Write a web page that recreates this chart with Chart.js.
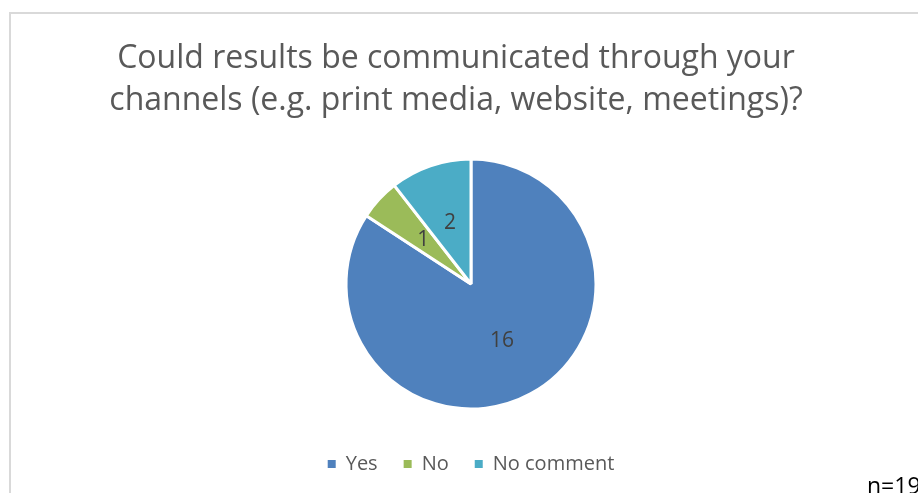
<!DOCTYPE html>
<html>
<head>
<meta charset="utf-8">
<script src="https://cdn.jsdelivr.net/npm/chart.js@4.4.1/dist/chart.umd.min.js"></script>
<style>
  html, body { margin: 0; padding: 0; background: #fff; }
  #wrap { width: 918px; height: 493px; position: relative; }
</style>
</head>
<body>
<div id="wrap"><canvas id="myChart" width="918" height="493"></canvas></div>
<script>
const categories = ['Yes', 'No', 'No comment'];
const answers = [16, 1, 2];
const sliceColors = ['#4f81bd', '#9bbb59', '#4bacc6'];
const titleLines = ['Could results be communicated through your', 'channels (e.g. print media, website, meetings)?'];
const sampleNote = 'n=19';

const FONT = "'Open Sans', 'Liberation Sans', sans-serif";

// frame, title, value labels and sample size are drawn on top of the pie
const decorations = {
  id: 'decorations',
  beforeDraw(chart) {
    const ctx = chart.ctx;
    ctx.save();
    ctx.strokeStyle = '#d9d9d9';
    ctx.lineWidth = 2;
    ctx.strokeRect(10, 13, 940, 520);
    ctx.restore();
  },
  afterDraw(chart) {
    const ctx = chart.ctx;
    ctx.save();
    ctx.fillStyle = '#595959';
    ctx.font = '32px ' + FONT;
    ctx.textAlign = 'center';
    ctx.textBaseline = 'alphabetic';
    titleLines.forEach((line, i) => ctx.fillText(line, 456, 68 + i * 42));

    // value labels in the middle of each slice
    const meta = chart.getDatasetMeta(0);
    ctx.fillStyle = '#404040';
    ctx.font = '21px ' + FONT;
    ctx.textBaseline = 'middle';
    meta.data.forEach((arc, i) => {
      const mid = (arc.startAngle + arc.endAngle) / 2;
      const r = arc.outerRadius * 0.52;
      ctx.fillText(String(answers[i]), arc.x + Math.cos(mid) * r, arc.y + Math.sin(mid) * r);
    });

    ctx.fillStyle = '#000';
    ctx.font = '23px ' + FONT;
    ctx.textAlign = 'left';
    ctx.textBaseline = 'alphabetic';
    ctx.fillText(sampleNote, 867, 494);
    ctx.restore();
  }
};

const chart = new Chart(document.getElementById('myChart'), {
  type: 'pie',
  data: {
    labels: categories,
    datasets: [{
      data: answers,
      backgroundColor: sliceColors,
      borderColor: '#ffffff',
      borderWidth: 3,
      radius: 125
    }]
  },
  options: {
    responsive: false,
    animation: false,
    layout: { padding: { top: 140, bottom: 9, left: 24, right: 0 } },
    plugins: {
      title: { display: false },
      tooltip: { enabled: false },
      legend: {
        position: 'bottom',
        labels: {
          boxWidth: 8,
          boxHeight: 8,
          padding: 26,
          color: '#595959',
          font: { family: FONT, size: 20 },
          // solid squares without the white slice border
          generateLabels(c) {
            const items = Chart.overrides.pie.plugins.legend.labels.generateLabels(c);
            items.forEach(it => { it.lineWidth = 0; it.strokeStyle = it.fillStyle; });
            return items;
          }
        }
      }
    }
  },
  plugins: [decorations]
});
</script>
</body>
</html>
